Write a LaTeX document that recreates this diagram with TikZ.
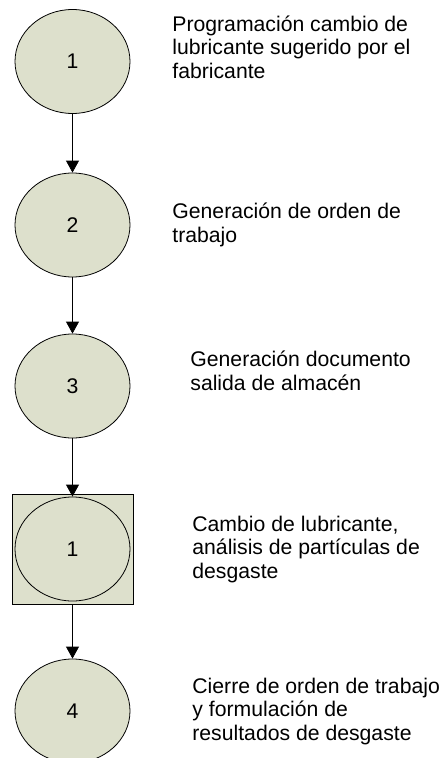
\documentclass[tikz,border=0pt]{standalone}
\usepackage{fontspec}
\setmainfont{Liberation Sans}
\usetikzlibrary{shapes.geometric,arrows.meta}
\tikzset {>={Triangle[length=12pt,width=13pt]}}
\definecolor{stagefill}{RGB}{221,224,204}
\tikzset{
  stage/.style={ellipse,draw,fill=stagefill,minimum width=115pt,
    minimum height=104pt,inner sep=0pt},
  stagebox/.style={rectangle,draw,fill=stagefill,minimum width=121pt,
    minimum height=110pt,inner sep=0pt},
  note/.style={anchor=base west,align=left,inner sep=0pt}
}

\begin{document}
\begin{tikzpicture}[x=1pt,y=-1pt,line width=0.8pt,
  font=\fontsize{21.2}{23.3}\selectfont]
\useasboundingbox (0,0) rectangle (447,758);

% Draw the stages
\node[stage] (s1) at (72.5,61.5) {1};
\node[stage] (s2) at (72.5,225)  {2};
\node[stage] (s3) at (72.5,386)  {3};
\node[stagebox] (b4) at (72.5,549) {};
\node[stage] (s4) at (72.5,549)  {1};
\node[stage] (s5) at (72.5,711)  {4};

% Draw arrows between stages
\draw[->] (s1) -- (s2);
\draw[->] (s2) -- (s3);
\draw[->] (s3) -- (s4);
\draw[->] (b4) -- (s5);

% Labels beside the stages (placed at the last baseline)
\node[note] (t1) at (172,78)  {Programación cambio de\\lubricante sugerido por el\\fabricante};
\node[note] (t2) at (172,242) {Generación de orden de\\trabajo};
\node[note] (t3) at (190,390) {Generación documento\\salida de almacén};
\node[note] (t4) at (192,578) {Cambio de lubricante,\\análisis de partículas de\\desgaste};
\node[note] (t5) at (192,740) {Cierre de orden de trabajo\\y formulación de\\resultados de desgaste};
\end{tikzpicture}
\end{document}
